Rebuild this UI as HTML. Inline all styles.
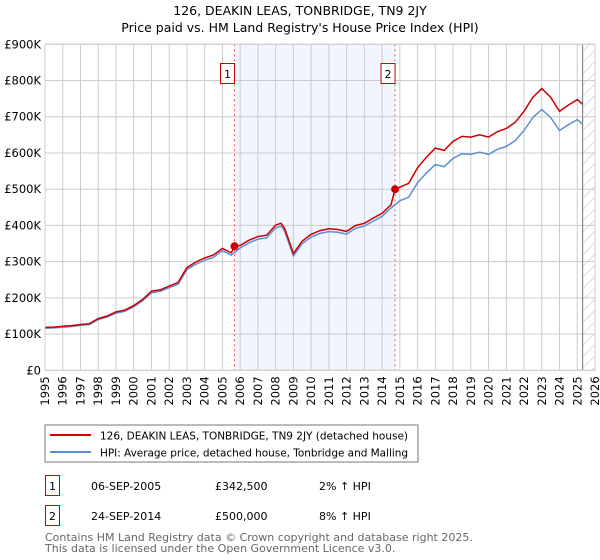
<!DOCTYPE html>
<html><head><meta charset="utf-8"><style>
body{margin:0;background:#fff;font-family:"DejaVu Sans","Liberation Sans",sans-serif;}
#wrap{position:relative;width:600px;height:560px;overflow:hidden}
</style></head><body><div id="wrap">
<svg id="svg" width="600" height="560" xmlns="http://www.w3.org/2000/svg" font-family="DejaVu Sans, Liberation Sans, sans-serif">
<defs><pattern id="hatch" width="8" height="8" patternUnits="userSpaceOnUse" patternTransform="rotate(45)"><line x1="0" y1="0" x2="0" y2="8" stroke="#bbb" stroke-width="1"/></pattern></defs>
<text x="300" y="15" text-anchor="middle" font-size="12.5" fill="#000">126, DEAKIN LEAS, TONBRIDGE, TN9 2JY</text>
<text x="300" y="32" text-anchor="middle" font-size="12.5" fill="#000">Price paid vs. HM Land Registry's House Price Index (HPI)</text>
<g id="grid"></g><g id="marks"></g><g id="axes"></g>
<rect x="45" y="425" width="373" height="37" fill="#fff" stroke="#777"/>
<line x1="50" y1="435" x2="91" y2="435" stroke="#cc0000" stroke-width="2"/>
<text x="100" y="439.5" font-size="10.5" textLength="308">126, DEAKIN LEAS, TONBRIDGE, TN9 2JY (detached house)</text>
<line x1="50" y1="452" x2="91" y2="452" stroke="#5b8fd0" stroke-width="2"/>
<text x="100" y="456.5" font-size="10.5" textLength="308">HPI: Average price, detached house, Tonbridge and Malling</text>
<g font-size="11">
<rect x="45.5" y="475.5" width="14" height="20" fill="#fff" stroke="#cc0000"/>
<text x="52.5" y="490" text-anchor="middle">1</text>
<text x="91" y="490">06-SEP-2005</text>
<text x="215" y="490">£342,500</text>
<text x="319" y="490">2% ↑ HPI</text>
<rect x="45.5" y="505.5" width="14" height="20" fill="#fff" stroke="#cc0000"/>
<text x="52.5" y="520" text-anchor="middle">2</text>
<text x="91" y="520">24-SEP-2014</text>
<text x="215" y="520">£500,000</text>
<text x="319" y="520">8% ↑ HPI</text>
</g>
<text x="45" y="541" font-size="11" fill="#666">Contains HM Land Registry data © Crown copyright and database right 2025.</text>
<text x="45" y="552" font-size="11" fill="#666">This data is licensed under the Open Government Licence v3.0.</text>
</svg></div>
<script>
const hpiYears=[1995,1995.5,1996,1996.5,1997,1997.5,1998,1998.5,1999,1999.5,2000,2000.5,2001,2001.5,2002,2002.5,2003,2003.5,2004,2004.5,2005,2005.5,2006,2006.5,2007,2007.5,2008,2008.3,2008.5,2009,2009.5,2010,2010.5,2011,2011.5,2012,2012.5,2013,2013.5,2014,2014.5,2015,2015.5,2016,2016.5,2017,2017.5,2018,2018.5,2019,2019.5,2020,2020.5,2021,2021.5,2022,2022.5,2023,2023.5,2024,2024.5,2025,2025.3];
const hpiValues=[116,117,119,121,124,126,140,147,158,163,175,192,214,218,228,238,278,293,304,312,330,318,338,352,362,366,393,398,385,316,350,368,378,383,381,376,392,398,412,425,448,468,478,518,545,568,562,585,598,596,602,596,610,618,634,662,698,720,698,662,678,692,680];
const saleYears=[2005.68,2014.73];
const saleValues=[342.5,500];
const salePctAboveHpi=[2,8];
const saleLabels=["1","2"];
const yTicks=[0,100,200,300,400,500,600,700,800,900];
const yTickLabels=["£0","£100K","£200K","£300K","£400K","£500K","£600K","£700K","£800K","£900K"];
const xTicks=[1995,1996,1997,1998,1999,2000,2001,2002,2003,2004,2005,2006,2007,2008,2009,2010,2011,2012,2013,2014,2015,2016,2017,2018,2019,2020,2021,2022,2023,2024,2025,2026];
const dataEnd=2025.3;

const NS="http://www.w3.org/2000/svg";
const X0=45,X1=595,Y0=370.3,Y1=44.3,XMIN=1995,XMAX=2026,YMAX=900;
const xs=v=>X0+(v-XMIN)/(XMAX-XMIN)*(X1-X0);
const ys=v=>Y0-v/YMAX*(Y0-Y1);
function mk(tag,attrs,parent){const e=document.createElementNS(NS,tag);for(const k in attrs)e.setAttribute(k,attrs[k]);parent.appendChild(e);return e;}
const grid=document.getElementById('grid'),marks=document.getElementById('marks'),axes=document.getElementById('axes');
let r=mk('rect',{x:xs(saleYears[0]),y:Y1,width:xs(saleYears[1])-xs(saleYears[0]),height:Y0-Y1,fill:'#eef2fc',opacity:0.8},grid);


r=mk('rect',{x:xs(dataEnd),y:Y1,width:X1-xs(dataEnd),height:Y0-Y1,fill:'url(#hatch)'},grid);


yTicks.forEach((t,i)=>{const l=mk('line',{x1:X0,x2:X1,y1:ys(t),y2:ys(t),stroke:'#ccc'},grid);


const tx=mk('text',{x:X0-4,y:ys(t)+4,'text-anchor':'end','font-size':'11.5'},axes);tx.textContent=yTickLabels[i];

});
xTicks.forEach(t=>{const l=mk('line',{x1:xs(t),x2:xs(t),y1:Y1,y2:Y0,stroke:'#ccc'},grid);


const tx=mk('text',{x:0,y:0,'text-anchor':'end','font-size':'11.5',transform:`translate(${xs(t)+4},${Y0+6}) rotate(-90)`},axes);tx.textContent=t;

});
const vl=mk('line',{x1:xs(dataEnd),x2:xs(dataEnd),y1:Y1,y2:Y0,stroke:'#888','stroke-width':1.2},grid);


function hpiAt(y){for(let i=1;i<hpiYears.length;i++){if(y<=hpiYears[i]){const f=(y-hpiYears[i-1])/(hpiYears[i]-hpiYears[i-1]);return hpiValues[i-1]+f*(hpiValues[i]-hpiValues[i-1]);}}return hpiValues[hpiValues.length-1];}
function ratioAt(y){let idx=0;for(let i=0;i<saleYears.length;i++)if(y>=saleYears[i])idx=i;return 1+salePctAboveHpi[idx]/100;}
const bl=mk('path',{d:hpiYears.map((y,i)=>(i?'L':'M')+xs(y).toFixed(1)+','+ys(hpiValues[i]).toFixed(1)).join(''),fill:'none',stroke:'#5b8fd0','stroke-width':1.5},marks);


let pts=[];hpiYears.forEach((y,i)=>{if(saleYears.every(s=>Math.abs(s-y)>0.15))pts.push([y,hpiValues[i]*ratioAt(y)]);});
saleYears.forEach((s,i)=>{pts.push([s,saleValues[i]]);});
pts.sort((a,b)=>a[0]-b[0]);
const rl=mk('path',{d:pts.map((p,i)=>(i?'L':'M')+xs(p[0]).toFixed(1)+','+ys(p[1]).toFixed(1)).join(''),fill:'none',stroke:'#cc0000','stroke-width':1.5},marks);


saleYears.forEach((s,i)=>{
const d=mk('line',{x1:xs(s),x2:xs(s),y1:Y1,y2:Y0,stroke:'#e55','stroke-dasharray':'2,3'},marks);


const c=mk('circle',{cx:xs(s),cy:ys(saleValues[i]),r:4,fill:'#cc0000'},marks);


const b=mk('rect',{x:xs(s)-14,y:63.5,width:14,height:20,fill:'#fff',stroke:'#cc0000'},marks);


const t=mk('text',{x:xs(s)-7,y:78,'text-anchor':'middle','font-size':'11'},marks);t.textContent=saleLabels[i];

});
const fr=mk('rect',{x:X0,y:Y1,width:X1-X0,height:Y0-Y1,fill:'none',stroke:'#ccc'},axes);


</script></body></html>
